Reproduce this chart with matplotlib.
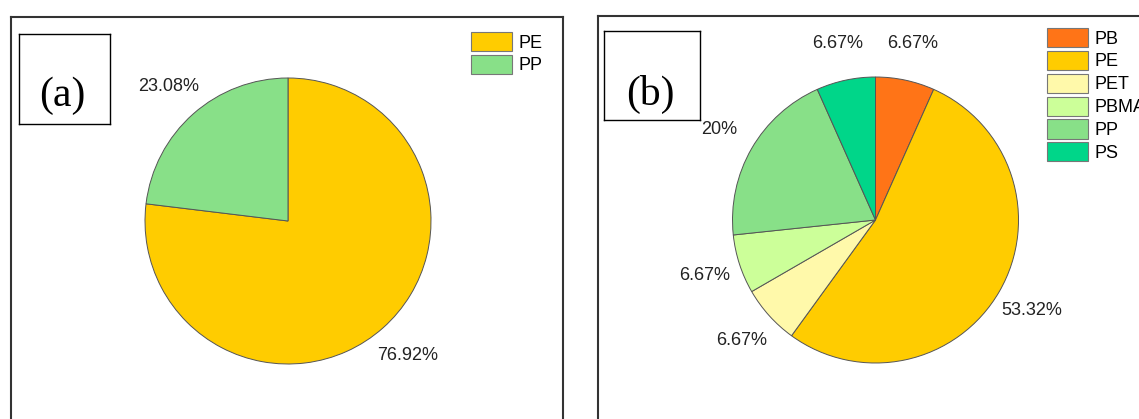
import matplotlib
matplotlib.use("Agg")
import matplotlib.pyplot as plt

# data
labels_a = ['PE', 'PP']
values_a = [76.92, 23.08]
pct_a = ['76.92%', '23.08%']
colors_a = ['#FFCC00', '#88E088']

labels_b = ['PB', 'PE', 'PET', 'PBMA', 'PP', 'PS']
values_b = [6.67, 53.32, 6.67, 6.67, 20, 6.67]
pct_b = ['6.67%', '53.32%', '6.67%', '6.67%', '20%', '6.67%']
colors_b = ['#FF7417', '#FFCC00', '#FFF9AA', '#CCFF99', '#88E088', '#00D689']

plt.rcParams['font.family'] = ['Liberation Sans', 'DejaVu Sans']

W, H = 1139, 419
fig = plt.figure(figsize=(W / 100, H / 100), dpi=100)


def px_axes(x0, y0, x1, y1):
    # axes placed by pixel box (top-left origin)
    return fig.add_axes([x0 / W, 1 - y1 / H, (x1 - x0) / W, (y1 - y0) / H])


def pie_panel(box, center, R, values, colors, pct, labels, leg_xy):
    x0, y0, x1, y1 = box
    cx, cy = center
    ax = px_axes(x0, y0, x1, y1)
    wedges, texts = ax.pie(values, colors=colors, labels=pct, startangle=90,
                           counterclock=False, labeldistance=1.26,
                           wedgeprops=dict(edgecolor='#555555', linewidth=0.7),
                           textprops=dict(fontsize=13, color='#222222'))
    for t in texts:
        t.set_ha('center')
        t.set_va('center')
    ax.set_aspect('auto')
    ax.set_xlim((x0 - cx) / R, (x1 - cx) / R)
    ax.set_ylim((cy - y1) / R, (cy - y0) / R)
    ax.set_frame_on(True)
    ax.set_xticks([])
    ax.set_yticks([])
    for s in ax.spines.values():
        s.set_color('#333333')
        s.set_linewidth(1.5)
    lx, ly = leg_xy
    leg = fig.legend(wedges, labels, loc='upper left',
                     bbox_to_anchor=(lx / W, 1 - ly / H), bbox_transform=fig.transFigure,
                     frameon=False, borderpad=0, borderaxespad=0, fontsize=13,
                     handlelength=2.28, handleheight=1.25, labelspacing=0.18,
                     handletextpad=0.35)
    for p in leg.get_patches():
        p.set_edgecolor('#777777')
        p.set_linewidth(0.8)
    return ax


def tag_box(box, text, ty):
    x0, y0, x1, y1 = box
    ax = px_axes(x0, y0, x1, y1)
    ax.set_xticks([])
    ax.set_yticks([])
    for s in ax.spines.values():
        s.set_color('black')
        s.set_linewidth(1.0)
    ax.text(0.48, ty, text, transform=ax.transAxes, ha='center', va='center',
            fontsize=30, family=['Liberation Serif', 'DejaVu Serif'])


pie_panel((11, 17, 563, 440), (288, 221), 143, values_a, colors_a, pct_a, labels_a, (471, 32))
pie_panel((598, 16, 1170, 440), (875.5, 220), 143, values_b, colors_b, pct_b, labels_b, (1047, 28))

tag_box((19, 34, 110, 124), '(a)', 0.31)
tag_box((604, 31, 700, 120), '(b)', 0.29)

fig.savefig('out.png', dpi=100)
